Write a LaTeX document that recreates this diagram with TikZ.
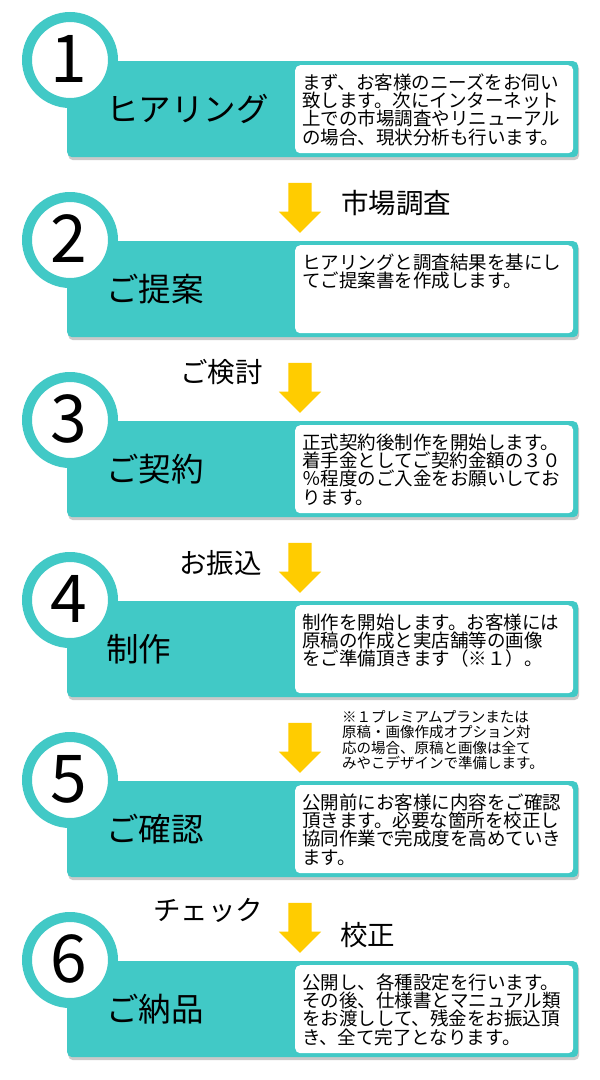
\documentclass[tikz,border=0pt]{standalone}
\usepackage{fontspec}
\newfontfamily\jpfont{Noto Sans CJK JP}
\usetikzlibrary{shapes.arrows,shadows}
\definecolor{flowteal}{HTML}{41C9C6}
\definecolor{flowyellow}{HTML}{FFCC00}
\tikzset{flowbox/.style={fill=flowteal,rounded corners=5pt,anchor=north west,inner sep=0pt,
           minimum width=511pt,minimum height=96pt,
           drop shadow={shadow xshift=1pt,shadow yshift=-3pt,opacity=0.35,fill=black!60}},
         flowcard/.style={fill=white,rounded corners=5pt,anchor=north west,inner sep=0pt,
           minimum width=278pt,minimum height=88pt},
         flownum/.style={circle,draw=flowteal,line width=10pt,fill=white,minimum size=86pt,inner sep=0pt},
         flowdigit/.style={anchor=base,inner sep=0pt,font=\jpfont\fontsize{66pt}{70pt}\selectfont},
         flowtitle/.style={anchor=base west,inner sep=0pt,font=\jpfont\fontsize{32.5pt}{36pt}\selectfont},
         flownote/.style={anchor=base west,inner sep=0pt,align=left,text width=282pt,
           font=\jpfont\fontsize{18.5pt}{18.4pt}\selectfont},
         flowsmall/.style={anchor=base west,inner sep=0pt,align=left,text width=230pt,
           font=\jpfont\fontsize{14.5pt}{15.3pt}\selectfont},
         flowlab/.style={anchor=base west,inner sep=0pt,font=\jpfont\fontsize{27.5pt}{30pt}\selectfont},
         flowarrow/.style={single arrow,fill=flowyellow,inner xsep=11.5pt,inner ysep=0pt,
           minimum height=50pt,minimum width=42pt,single arrow head extend=9.5pt,shape border rotate=270}}

\begin{document}
\begin{tikzpicture}[x=1pt,y=-1pt]
  \fill[white] (0,0) rectangle (600,1080);
  \useasboundingbox (0,0) rectangle (600,1080);
  % the six steps
  \foreach \k/\t/\b in {1/ヒアリング/{まず、お客様のニーズをお伺い\\致します。次にインターネット\\上での市場調査やリニューアル\\の場合、現状分析も行います。},
     2/ご提案/{ヒアリングと調査結果を基にし\\てご提案書を作成します。},
     3/ご契約/{正式契約後制作を開始します。\\着手金としてご契約金額の３０\\％程度のご入金をお願いしてお\\ります。},
     4/制作/{制作を開始します。お客様には\\原稿の作成と実店舗等の画像\\をご準備頂きます（※１）。},
     5/ご確認/{公開前にお客様に内容をご確認\\頂きます。必要な箇所を校正し\\協同作業で完成度を高めていき\\ます。},
     6/ご納品/{公開し、各種設定を行います。\\その後、仕様書とマニュアル類\\をお渡しして、残金をお振込頂\\き、全て完了となります。}}
  {
    \pgfmathsetmacro{\T}{61+180*(\k-1)}
    \node[flowbox] (box\k) at (67,\T) {};
    \node[flowcard] (card\k) at (295,\T+4) {};
    \node[flownum] (num\k) at (70,\T-1) {};
    \node[flowdigit] (dig\k) at (69,\T+21) {\k};
    \node[flowtitle] (title\k) at (106,\T+60) {\t};
    \node[flownote] (note\k) at (302,\T+28) {\b};
  }
  % arrows between the steps
  \node[flowarrow] (arr1) at (300,202) {};
  \node[flowlab] (lab1) at (341,213) {市場調査};
  \node[flowarrow] (arr2) at (300,382) {};
  \node[flowlab] (lab2) at (180,382.5) {ご検討};
  \node[flowarrow] (arr3) at (300,562) {};
  \node[flowlab] (lab3) at (179,573.5) {お振込};
  \node[flowarrow] (arr4) at (300,742) {};
  \node[flowsmall] (lab4) at (342,722.5) {※１プレミアムプランまたは\\原稿・画像作成オプション対\\応の場合、原稿と画像は全て\\みやこデザインで準備します。};
  \node[flowarrow] (arr5) at (300,922) {};
  \node[flowlab] (lab5a) at (153,920.5) {チェック};
  \node[flowlab] (lab5b) at (340,945.5) {校正};
\end{tikzpicture}
\end{document}
